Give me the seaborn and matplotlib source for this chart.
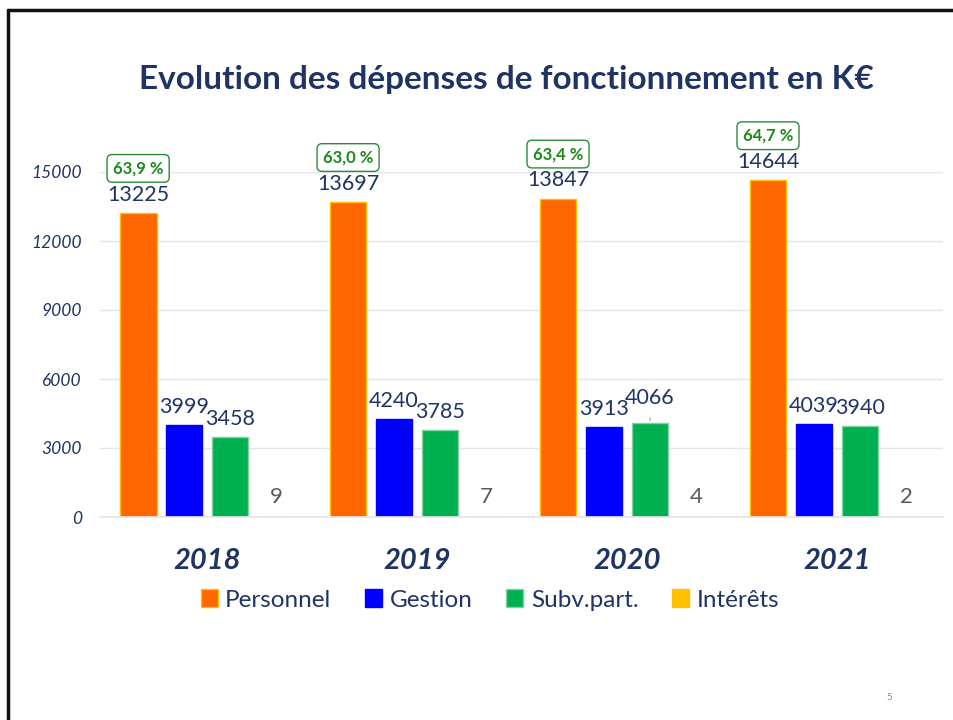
import matplotlib
matplotlib.use("Agg")
import matplotlib.pyplot as plt
import seaborn as sns
import pandas as pd
from matplotlib.lines import Line2D
from matplotlib.patches import Patch

years = ["2018", "2019", "2020", "2021"]
categories = ["Personnel", "Gestion", "Subv.part.", "Intérêts"]
personnel = [13225, 13697, 13847, 14644]
gestion = [3999, 4240, 3913, 4039]
subv = [3458, 3785, 4066, 3940]
interets = [9, 7, 4, 2]
pct_labels = ["63,9 %", "63,0 %", "63,4 %", "64,7 %"]
yticks = [0, 3000, 6000, 9000, 12000, 15000]

colors = ["#FF6600", "#0000FF", "#00B050", "#FFC000"]
edges = ["#FFC000", "#0000FF", "#7FD1A0", "#FFC000"]
navy = "#1F3464"

sns.set_theme(style="white")
plt.rcParams['font.family'] = ['Lato', 'DejaVu Sans']

rows = []
for cat, vals in zip(categories, [personnel, gestion, subv, interets]):
    for y, v in zip(years, vals):
        rows.append({"year": y, "cat": cat, "value": v})
df = pd.DataFrame(rows)

fig = plt.figure(figsize=(9.54, 7.2), dpi=100)
ax = fig.add_axes([100/954, 1-517/720, (943-100)/954, (517-172)/720])

sns.barplot(data=df, x="year", y="value", hue="cat", order=years,
            hue_order=categories, palette=colors, width=0.876, gap=0.2,
            ax=ax, legend=False, saturation=1)

for cont, ec in zip(ax.containers, edges):
    for b in cont:
        b.set_edgecolor(ec)
        b.set_linewidth(1.0)

ax.set_xlim(-0.51, 3.505)
ax.set_ylim(0, 15000)
ax.set_yticks(yticks)
ax.set_yticklabels([str(t) for t in yticks], fontsize=12.5, style="italic", color=navy)
ax.set_xticks(range(len(years)))
ax.set_xticklabels(years, fontsize=21, fontweight="bold", style="italic", color=navy)
ax.tick_params(axis="y", length=0, pad=13)
ax.tick_params(axis="x", length=0, pad=22)
ax.set_xlabel("")
ax.set_ylabel("")
ax.grid(axis="y", color="#E4E4EC", linewidth=1)
ax.set_axisbelow(True)
for s in ["top", "right", "left"]:
    ax.spines[s].set_visible(False)
ax.spines["bottom"].set_color("#E4E4EC")

# data labels
for ci, cont in enumerate(ax.containers):
    for bi, b in enumerate(cont):
        x = b.get_x() + b.get_width() / 2
        h = b.get_height()
        if ci == 3:
            ax.annotate(f"{int(h)}", (x, h), xytext=(0, 14.5), textcoords="offset points",
                        ha="center", va="center", fontsize=16, color="#595959")
            continue
        off = 13
        if ci == 2 and bi == 2:
            off = 18
            ax.annotate("", (x, h), xytext=(0, 6), textcoords="offset points",
                        arrowprops=dict(arrowstyle="-", color="#A0A0A0", lw=0.8))
        ax.annotate(f"{int(h)}", (x, h), xytext=(0, off), textcoords="offset points",
                    ha="center", va="center", fontsize=15.5, color=navy, annotation_clip=False)
        if ci == 0:
            ax.annotate(pct_labels[bi], (x, h), xytext=(0, 32), textcoords="offset points",
                        ha="center", va="center", fontsize=12, fontweight="bold",
                        color="#1A8A1A", annotation_clip=False,
                        bbox=dict(boxstyle="round,pad=0.35,rounding_size=0.3",
                                  fc="white", ec="#2E8B3A", lw=1.0))

# legend
handles = [Patch(facecolor=c, edgecolor=e) for c, e in zip(colors, edges)]
fig.legend(handles, categories, loc="center", bbox_to_anchor=(490/954, 1-600/720),
           ncol=4, frameon=False, fontsize=17.5, handlelength=0.7, handleheight=0.7,
           handletextpad=0.3, columnspacing=1.4, labelcolor=navy)

fig.text(506/954, 1-80/720, "Evolution des dépenses de fonctionnement en K€",
         ha="center", va="center", fontsize=24, fontweight="bold", color=navy)
fig.text(889/954, 1-697/720, "5", ha="center", va="center", fontsize=7, color="#8C8C8C")

# slide frame
fig.add_artist(Line2D([8/954, 8/954], [0, 1-10/720], color="#111111", lw=2.5,
                      transform=fig.transFigure))
fig.add_artist(Line2D([8/954, 1], [1-10/720, 1-10/720], color="#111111", lw=2.5,
                      transform=fig.transFigure))

fig.savefig("out.png", dpi=100)
